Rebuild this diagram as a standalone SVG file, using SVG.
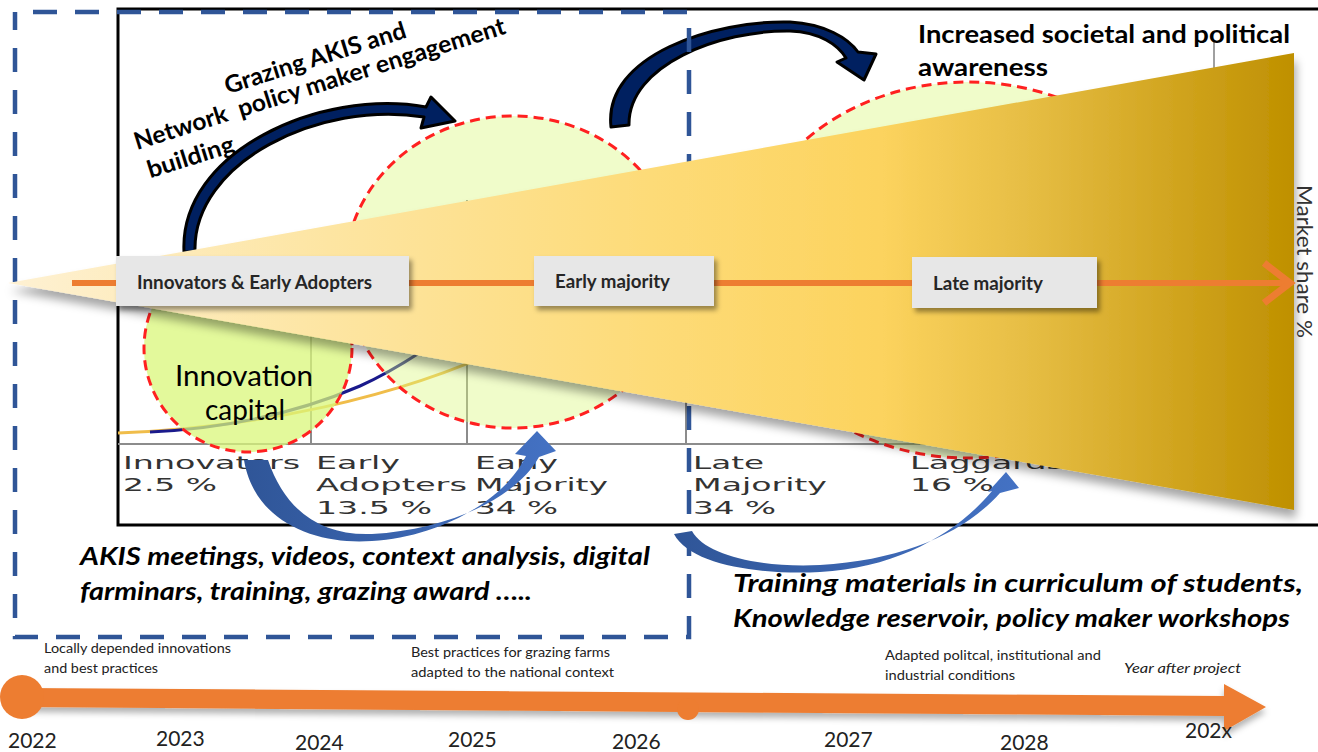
<svg xmlns="http://www.w3.org/2000/svg" width="1318" height="752" viewBox="0 0 1318 752">
<defs>
  <linearGradient id="wedgeGrad" gradientUnits="userSpaceOnUse" x1="8" y1="0" x2="1294" y2="0">
    <stop offset="0" stop-color="#FEF1D3"/>
    <stop offset="0.25" stop-color="#FDE5A2"/>
    <stop offset="0.5" stop-color="#FDDB78"/>
    <stop offset="0.68" stop-color="#FCD35E"/>
    <stop offset="0.8" stop-color="#E5BC42"/>
    <stop offset="1" stop-color="#BF9000"/>
  </linearGradient>
  <linearGradient id="blueC" gradientUnits="userSpaceOnUse" x1="240" y1="0" x2="560" y2="0">
    <stop offset="0" stop-color="#2F5597"/>
    <stop offset="1" stop-color="#4472C4"/>
  </linearGradient>
  <linearGradient id="blueD" gradientUnits="userSpaceOnUse" x1="670" y1="0" x2="1020" y2="0">
    <stop offset="0" stop-color="#2F5597"/>
    <stop offset="1" stop-color="#4472C4"/>
  </linearGradient>
  <filter id="wedgeShadow" x="-5%" y="-10%" width="115%" height="130%">
    <feDropShadow dx="2" dy="8" stdDeviation="5" flood-color="#000" flood-opacity="0.35"/>
  </filter>
  <filter id="boxShadow" x="-10%" y="-20%" width="130%" height="160%">
    <feDropShadow dx="3" dy="4" stdDeviation="2.5" flood-color="#000" flood-opacity="0.4"/>
  </filter>
  <filter id="lineShadow" x="-5%" y="-50%" width="110%" height="250%">
    <feDropShadow dx="0" dy="5" stdDeviation="3" flood-color="#000" flood-opacity="0.3"/>
  </filter>
  <marker id="chev" markerUnits="userSpaceOnUse" markerWidth="40" markerHeight="50" refX="30" refY="25" orient="auto" viewBox="0 0 40 50">
    <polyline points="4,5 30,25 4,45" fill="none" stroke="#ED7D31" stroke-width="7"/>
  </marker>
  <style>
    .cat{font-family:"DejaVu Sans",sans-serif;font-size:18px;fill:#333}
    .lbl{font-family:Lato,"Liberation Sans",sans-serif;font-size:18px;font-weight:700;fill:#262626}
    .box{fill:#E7E7E7;filter:url(#boxShadow)}
    .circ{stroke:#FF2020;stroke-width:3;stroke-dasharray:10 6;fill:#D9F77A}
    .bigi{font-family:Lato,"Liberation Sans",sans-serif;font-weight:700;font-style:italic;font-size:25px;fill:#000}
    .bold{font-family:Lato,"Liberation Sans",sans-serif;font-weight:700;font-size:24px;fill:#000}
    .note{font-family:Lato,"Liberation Sans",sans-serif;font-size:13px;fill:#222}
    .year{font-family:Lato,"Liberation Sans",sans-serif;font-size:21px;fill:#222}
    .navy{fill:#002060;stroke:#000;stroke-width:3;stroke-linejoin:round}
    .grid{stroke:#8C8C8C;stroke-width:2;fill:none}
  </style>
</defs>

<rect x="0" y="0" width="1318" height="752" fill="#FFFFFF"/>

<!-- chart frame and grid -->
<g id="chart-frame">
  <path d="M1330 9 H118 V525 H1330" fill="none" stroke="#000" stroke-width="3"/>
  <line class="grid" x1="118" y1="444" x2="1100" y2="444"/>
  <line class="grid" x1="311" y1="240" x2="311" y2="444"/>
  <line class="grid" x1="467" y1="200" x2="467" y2="444"/>
  <line class="grid" x1="686" y1="300" x2="686" y2="444"/>
  <line x1="1214" y1="40" x2="1214" y2="70" stroke="#808080" stroke-width="1.5"/>
  <path d="M118 433 C250 428 400 400 520 340 C600 300 680 250 760 200" fill="none" stroke="#F0BD4A" stroke-width="3"/>
  <path d="M150 432 C230 428 300 412 360 386 C400 368 440 340 480 310 C540 270 600 230 660 200" fill="none" stroke="#1A1A8C" stroke-width="3"/>
</g>

<!-- circles -->
<g id="circle-late">
  <ellipse class="circ" cx="968" cy="270" rx="225" ry="188" fill-opacity="0.4"/>
</g>
<g id="circle-early">
  <ellipse class="circ" cx="513" cy="272" rx="168" ry="156" fill-opacity="0.4"/>
</g>
<g id="circle-innovation">
  <circle class="circ" cx="248" cy="348" r="104" fill-opacity="0.75"/>
  <text x="175" y="386" font-family="Lato,'Liberation Sans',sans-serif" font-size="28" fill="#000" textLength="138" lengthAdjust="spacingAndGlyphs">Innovation</text>
  <text x="205" y="420" font-family="Lato,'Liberation Sans',sans-serif" font-size="28" fill="#000" textLength="80" lengthAdjust="spacingAndGlyphs">capital</text>
</g>

<!-- category labels -->
<g id="categories">
  <text class="cat" x="123" y="469" textLength="177" lengthAdjust="spacingAndGlyphs">Innovators</text>
  <text class="cat" x="123" y="491" textLength="94" lengthAdjust="spacingAndGlyphs">2.5 %</text>
  <text class="cat" x="316" y="469" textLength="84" lengthAdjust="spacingAndGlyphs">Early</text>
  <text class="cat" x="316" y="491" textLength="151" lengthAdjust="spacingAndGlyphs">Adopters</text>
  <text class="cat" x="316" y="514" textLength="116" lengthAdjust="spacingAndGlyphs">13.5 %</text>
  <text class="cat" x="475" y="469" textLength="83" lengthAdjust="spacingAndGlyphs">Early</text>
  <text class="cat" x="475" y="491" textLength="133" lengthAdjust="spacingAndGlyphs">Majority</text>
  <text class="cat" x="475" y="514" textLength="83" lengthAdjust="spacingAndGlyphs">34 %</text>
  <text class="cat" x="693" y="469" textLength="71" lengthAdjust="spacingAndGlyphs">Late</text>
  <text class="cat" x="693" y="491" textLength="134" lengthAdjust="spacingAndGlyphs">Majority</text>
  <text class="cat" x="693" y="514" textLength="83" lengthAdjust="spacingAndGlyphs">34 %</text>
  <text class="cat" x="910" y="469" textLength="154" lengthAdjust="spacingAndGlyphs">Laggards</text>
  <text class="cat" x="910" y="491" textLength="84" lengthAdjust="spacingAndGlyphs">16 %</text>
</g>

<!-- navy curved arrows -->
<g id="connectors-top">
  <path class="navy" d="M184 252 C179 152 320 88 426 107 L431 97 L455 121 L421 128 L424 117 C320 100 192 162 195 252 Z"/>
  <path class="navy" d="M611 127 C603 55 715 20 790 22 C825 24 848 38 858 52 L876 54 L864 80 L837 62 L846 58 C838 45 820 32 790 31 C720 30 628 65 629 125 Z"/>
</g>

<!-- blue dashed frame -->
<g id="project-frame">
  <rect x="15" y="12" width="674" height="625" fill="none" stroke="#2F5597" stroke-width="4.5" stroke-dasharray="24 18" stroke-dashoffset="24"/>
</g>

<!-- wedge -->
<g id="wedge">
  <polygon points="8,283 1294,53 1294,510" fill="url(#wedgeGrad)" filter="url(#wedgeShadow)"/>
</g>

<!-- orange axis with labels -->
<g id="axis">
  <line x1="72" y1="283" x2="1290" y2="283" stroke="#ED7D31" stroke-width="6" marker-end="url(#chev)"/>
</g>
<g id="node-innovators">
  <rect class="box" x="116" y="256" width="293" height="50"/>
  <text class="lbl" x="137" y="289" textLength="235" lengthAdjust="spacingAndGlyphs">Innovators &amp; Early Adopters</text>
</g>
<g id="node-early-majority">
  <rect class="box" x="534" y="256" width="180" height="50"/>
  <text class="lbl" x="555" y="288" textLength="115" lengthAdjust="spacingAndGlyphs">Early majority</text>
</g>
<g id="node-late-majority">
  <rect class="box" x="912" y="257" width="185" height="51"/>
  <text class="lbl" x="933" y="290" textLength="110" lengthAdjust="spacingAndGlyphs">Late majority</text>
</g>

<text x="1297" y="185" transform="rotate(90 1297 185)" font-family="Lato,'Liberation Sans',sans-serif" font-size="22" fill="#333" textLength="153" lengthAdjust="spacingAndGlyphs">Market share %</text>

<!-- blue curved arrows -->
<g id="connectors-bottom">
  <path fill="url(#blueC)" d="M244 460 C255 525 320 545 372 541 C440 537 505 500 526 456 L515 454 L537 431 L556 451 L539 457 C515 500 445 530 372 534 C320 536 285 510 268 460 Z"/>
  <path fill="url(#blueD)" d="M674 534 C690 565 760 575 820 572 C900 568 960 530 992 491 L988 492 L1006 472 L1019 488 L1000 493 C965 532 905 560 820 565 C760 568 705 555 692 531 Z"/>
</g>

<!-- annotation texts -->
<g id="text-network" transform="translate(137 150) rotate(-17.5)">
  <text class="bold" x="103" y="-26" font-size="23" textLength="189" lengthAdjust="spacingAndGlyphs">Grazing AKIS and</text>
  <text class="bold" x="0" y="0" font-size="23" textLength="388" lengthAdjust="spacingAndGlyphs" xml:space="preserve">Network  policy maker engagement</text>
  <text class="bold" x="4" y="31" font-size="23" textLength="90" lengthAdjust="spacingAndGlyphs">building</text>
</g>
<g id="text-awareness">
  <text class="bold" x="918" y="43" font-size="25" textLength="372" lengthAdjust="spacingAndGlyphs">Increased societal and political</text>
  <text class="bold" x="918" y="76" font-size="25" textLength="130" lengthAdjust="spacingAndGlyphs">awareness</text>
</g>
<g id="text-akis">
  <text class="bigi" x="80" y="565" textLength="570" lengthAdjust="spacingAndGlyphs">AKIS meetings, videos, context analysis, digital</text>
  <text class="bigi" x="80" y="600" textLength="452" lengthAdjust="spacingAndGlyphs">farminars, training, grazing award …..</text>
</g>
<g id="text-training">
  <text class="bigi" x="733" y="592" textLength="570" lengthAdjust="spacingAndGlyphs">Training materials in curriculum of students,</text>
  <text class="bigi" x="733" y="627" textLength="557" lengthAdjust="spacingAndGlyphs">Knowledge reservoir, policy maker workshops</text>
</g>

<!-- timeline -->
<g id="timeline">
  <polygon points="22,688 1224,696 1224,684 1266,707 1224,731 1224,716 22,707" fill="#ED7D31" filter="url(#lineShadow)"/>
  <circle cx="22" cy="697" r="22" fill="#ED7D31"/>
  <circle cx="688" cy="709" r="11" fill="#ED7D31"/>
</g>
<g id="timeline-notes">
  <text class="note" x="44" y="653" textLength="187" lengthAdjust="spacingAndGlyphs">Locally depended innovations</text>
  <text class="note" x="44" y="673" textLength="114" lengthAdjust="spacingAndGlyphs">and best practices</text>
  <text class="note" x="411" y="657" textLength="199" lengthAdjust="spacingAndGlyphs">Best practices for grazing farms</text>
  <text class="note" x="411" y="677" textLength="203" lengthAdjust="spacingAndGlyphs">adapted to the national context</text>
  <text class="note" x="885" y="660" textLength="216" lengthAdjust="spacingAndGlyphs">Adapted politcal, institutional and</text>
  <text class="note" x="885" y="680" textLength="130" lengthAdjust="spacingAndGlyphs">industrial conditions</text>
  <text class="note" x="1124" y="673" font-style="italic" fill="#3A3A3A" textLength="117" lengthAdjust="spacingAndGlyphs">Year after project</text>
</g>
<g id="years">
  <text class="year" x="8" y="748">2022</text>
  <text class="year" x="156" y="746">2023</text>
  <text class="year" x="295" y="750">2024</text>
  <text class="year" x="448" y="747">2025</text>
  <text class="year" x="612" y="749">2026</text>
  <text class="year" x="824" y="747">2027</text>
  <text class="year" x="1000" y="750">2028</text>
  <text class="year" x="1185" y="738">202x</text>
</g>
</svg>
